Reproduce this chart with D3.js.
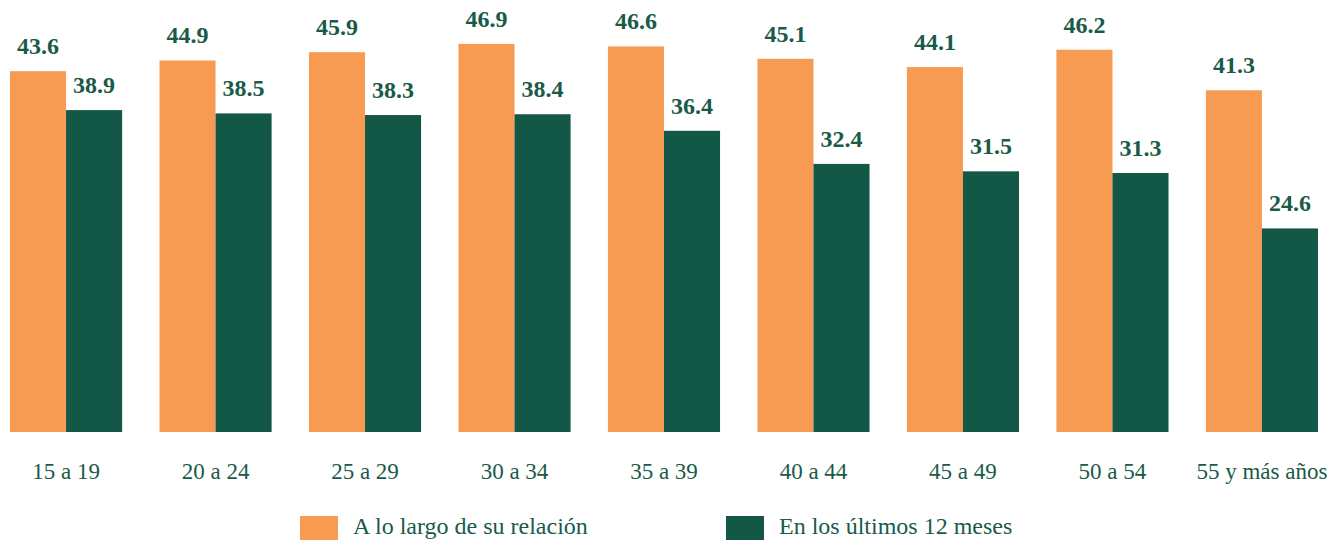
<!DOCTYPE html>
<html>
<head>
<meta charset="utf-8">
<script src="https://cdn.jsdelivr.net/npm/d3@7"></script>
<style>
  body { margin: 0; background: #fff; }
  text { font-family: "Times New Roman", "Liberation Serif", serif; }
</style>
</head>
<body>
<script>
// data
let categories = ["15 a 19", "20 a 24", "25 a 29", "30 a 34", "35 a 39", "40 a 44", "45 a 49", "50 a 54", "55 y más años"];
let seriesNames = ["A lo largo de su relación", "En los últimos 12 meses"];
let relacion = [43.6, 44.9, 45.9, 46.9, 46.6, 45.1, 44.1, 46.2, 41.3];
let ultimos = [38.9, 38.5, 38.3, 38.4, 36.4, 32.4, 31.5, 31.3, 24.6];

let colors = ["#F79B53", "#135746"];
let textColor = "#1A5A48";

let width = 1330, height = 540;
let svg = null;
let x, xSub, y = null;

let rows = categories.map(function(c, i) {
  return {cat: c, values: [relacion[i], ultimos[i]]};
});

appendSvg("body");
setupScales();
appendBars();
appendXLabels();
appendLegend();

function appendSvg(domElement) {
  svg = d3.select(domElement).append("svg")
    .attr("width", width)
    .attr("height", height);
}

function setupScales() {
  x = d3.scaleBand()
    .domain(categories)
    .range([10, 1318])
    .paddingInner(0.25)
    .paddingOuter(0);

  xSub = d3.scaleBand()
    .domain([0, 1])
    .range([0, x.bandwidth()]);

  y = d3.scaleLinear()
    .domain([0, 50])
    .range([432, 432 - 50 * 8.275]);
}

function appendBars() {
  let groups = svg.selectAll("g.group")
    .data(rows)
    .enter()
    .append("g")
    .attr("class", "group")
    .attr("transform", function(d) { return "translate(" + x(d.cat) + ",0)"; });

  let bars = groups.selectAll("g.bar")
    .data(function(d) { return d.values.map(function(v, k) { return {k: k, v: v}; }); })
    .enter()
    .append("g");

  bars.append("rect")
    .attr("x", function(d) { return xSub(d.k); })
    .attr("y", function(d) { return y(d.v); })
    .attr("width", xSub.bandwidth())
    .attr("height", function(d) { return y(0) - y(d.v); })
    .attr("fill", function(d) { return colors[d.k]; });

  // value labels
  bars.append("text")
    .attr("x", function(d) { return xSub(d.k) + xSub.bandwidth() / 2; })
    .attr("y", function(d) { return y(d.v) - 17; })
    .attr("text-anchor", "middle")
    .attr("font-size", "24px")
    .attr("font-weight", "bold")
    .attr("fill", textColor)
    .text(function(d) { return d3.format(".1f")(d.v); });
}

function appendXLabels() {
  svg.append("g")
    .selectAll("text")
    .data(categories)
    .enter()
    .append("text")
    .attr("x", function(d) { return x(d) + x.bandwidth() / 2; })
    .attr("y", 479)
    .attr("text-anchor", "middle")
    .attr("font-size", "23px")
    .attr("fill", textColor)
    .text(function(d) { return d; });
}

function appendLegend() {
  let lx = [300, 726];
  let legend = svg.append("g").attr("class", "legend")
    .selectAll("g")
    .data(seriesNames)
    .enter()
    .append("g")
    .attr("transform", function(d, i) { return "translate(" + lx[i] + ",516)"; });

  legend.append("rect")
    .attr("width", 38)
    .attr("height", 24)
    .attr("fill", function(d, i) { return colors[i]; });

  legend.append("text")
    .attr("x", 53)
    .attr("y", 18)
    .attr("font-size", "24px")
    .attr("fill", textColor)
    .text(function(d) { return d; });
}
</script>
</body>
</html>
